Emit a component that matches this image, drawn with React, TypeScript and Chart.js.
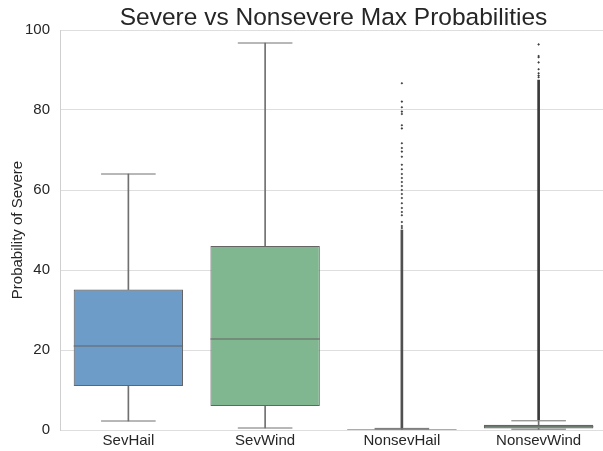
import React, { useEffect, useRef } from 'react';
import { Chart, registerables } from 'chart.js';

Chart.register(...registerables);

const categories = ['SevHail', 'SevWind', 'NonsevHail', 'NonsevWind'];
const whiskerLow = [2.25, 0.5, 0, 0.2];
const q1 = [11, 6, 0, 0.4];
const median = [21, 22.75, 0, 0.8];
const q3 = [35.1, 46, 0.2, 1.3];
const whiskerHigh = [64, 96.75, 0.4, 2.3];
// dense runs of outliers that merge into a solid column
const denseOutlierLow = [null, null, 0.5, 2.6];
const denseOutlierHigh = [null, null, 50, 87.5];
// sparse individual outliers
const nonsevHailOutliers = [
  86.7, 82.1, 80.7, 79.6, 79.0, 76.2, 75.4, 71.7, 70.5, 69.6, 68.3, 66.3, 65.2,
  64.0, 63.0, 62.0, 61.0, 60.0, 59.0, 58.0, 56.7, 55.5, 54.5, 53.7, 52.0, 51.0, 50.5,
];
const nonsevWindOutliers = [96.4, 93.5, 93.2, 91.9, 90.2, 89.2, 88.6, 88.2];
const boxColors = ['#6c9cc7', '#80b791', '#c98a87', '#80b791'];
const yMin = 0;
const yMax = 100;
const yStep = 20;

const GRAY = '#656565';
const WHISKER = '#707070';
const TEXT = '#262626';
const FONT = "'Liberation Sans', Arial, sans-serif";

export default function App() {
  const ref = useRef<HTMLCanvasElement | null>(null);

  useEffect(() => {
    if (!ref.current) return;
    const pairs = (lo: (number | null)[], hi: (number | null)[]) =>
      lo.map((v, i) => (v === null || hi[i] === null ? null : [v, hi[i]]));

    const chart = new Chart(ref.current, {
      type: 'bar',
      data: {
        labels: categories,
        datasets: [
          {
            type: 'bar',
            label: 'lower whisker',
            data: pairs(whiskerLow, q1) as any,
            backgroundColor: WHISKER,
            borderWidth: 0,
            barThickness: 1,
            grouped: false,
            order: 6,
          },
          {
            type: 'bar',
            label: 'upper whisker',
            data: pairs(q3, whiskerHigh) as any,
            backgroundColor: WHISKER,
            borderWidth: 0,
            barThickness: 1,
            grouped: false,
            order: 6,
          },
          {
            type: 'bar',
            label: 'dense outliers',
            data: pairs(denseOutlierLow, denseOutlierHigh) as any,
            backgroundColor: ['#3f3f3f', '#3f3f3f', '#505050', '#3a3a3a'],
            borderWidth: 0,
            barThickness: 2,
            grouped: false,
            order: 5,
          },
          {
            type: 'bar',
            label: 'box',
            data: pairs(q1, q3) as any,
            backgroundColor: boxColors,
            borderColor: GRAY,
            borderWidth: 1.1,
            borderSkipped: false,
            barPercentage: 0.8,
            categoryPercentage: 1,
            grouped: false,
            order: 4,
          },
          {
            type: 'line',
            label: 'median',
            data: median,
            showLine: false,
            pointStyle: 'line',
            pointRadius: 54.7,
            pointHoverRadius: 54.7,
            pointBorderColor: GRAY,
            pointBorderWidth: 1.1,
            order: 3,
          },
          {
            type: 'line',
            label: 'caps low',
            data: whiskerLow,
            showLine: false,
            pointStyle: 'line',
            pointRadius: 27.3,
            pointHoverRadius: 27.3,
            pointBorderColor: WHISKER,
            pointBorderWidth: 1,
            order: 3,
          },
          {
            type: 'line',
            label: 'caps high',
            data: whiskerHigh,
            showLine: false,
            pointStyle: 'line',
            pointRadius: 27.3,
            pointHoverRadius: 27.3,
            pointBorderColor: WHISKER,
            pointBorderWidth: 1,
            order: 3,
          },
          {
            type: 'line',
            label: 'outliers',
            data: [
              ...nonsevHailOutliers.map((y) => ({ x: 'NonsevHail', y })),
              ...nonsevWindOutliers.map((y) => ({ x: 'NonsevWind', y })),
            ] as any,
            showLine: false,
            pointStyle: 'rectRot',
            pointRadius: 1.3,
            pointHoverRadius: 1.3,
            pointBackgroundColor: '#3f3f3f',
            pointBorderColor: '#3f3f3f',
            pointBorderWidth: 0,
            order: 1,
          },
        ],
      },
      options: {
        responsive: true,
        maintainAspectRatio: false,
        animation: false,
        events: [],
        layout: { padding: 0, autoPadding: false },
        plugins: {
          legend: { display: false },
          tooltip: { enabled: false },
          title: {
            display: true,
            text: 'Severe vs Nonsevere Max Probabilities',
            color: TEXT,
            fullSize: false,
            font: { family: FONT, size: 24.5, weight: 'normal', lineHeight: 1.0 },
            padding: { top: 5.5, bottom: 0 },
          },
        },
        scales: {
          x: {
            type: 'category',
            offset: true,
            grid: { display: false, drawTicks: false },
            border: { display: false },
            ticks: { color: TEXT, font: { family: FONT, size: 15 }, padding: 2 },
            afterFit: (s: any) => {
              s.height = 21;
            },
          },
          y: {
            type: 'linear',
            min: yMin,
            max: yMax,
            grid: { color: '#dedede', lineWidth: 1, drawTicks: false },
            border: { display: true, color: '#cfcfcf', width: 1 },
            ticks: {
              stepSize: yStep,
              color: TEXT,
              font: { family: FONT, size: 15 },
              padding: 10,
            },
            title: {
              display: true,
              text: 'Probability of Severe',
              color: TEXT,
              font: { family: FONT, size: 15 },
              padding: { top: 9, bottom: 0 },
            },
            afterFit: (s: any) => {
              s.width = 60;
            },
          },
        },
      },
    });
    return () => chart.destroy();
  }, []);

  return (
    <div
      style={{
        position: 'fixed',
        left: 0,
        top: 0,
        width: 603,
        height: 451,
        overflow: 'hidden',
        background: '#ffffff',
      }}
    >
      <div style={{ position: 'relative', width: 607, height: 451 }}>
        <canvas ref={ref} />
      </div>
    </div>
  );
}
